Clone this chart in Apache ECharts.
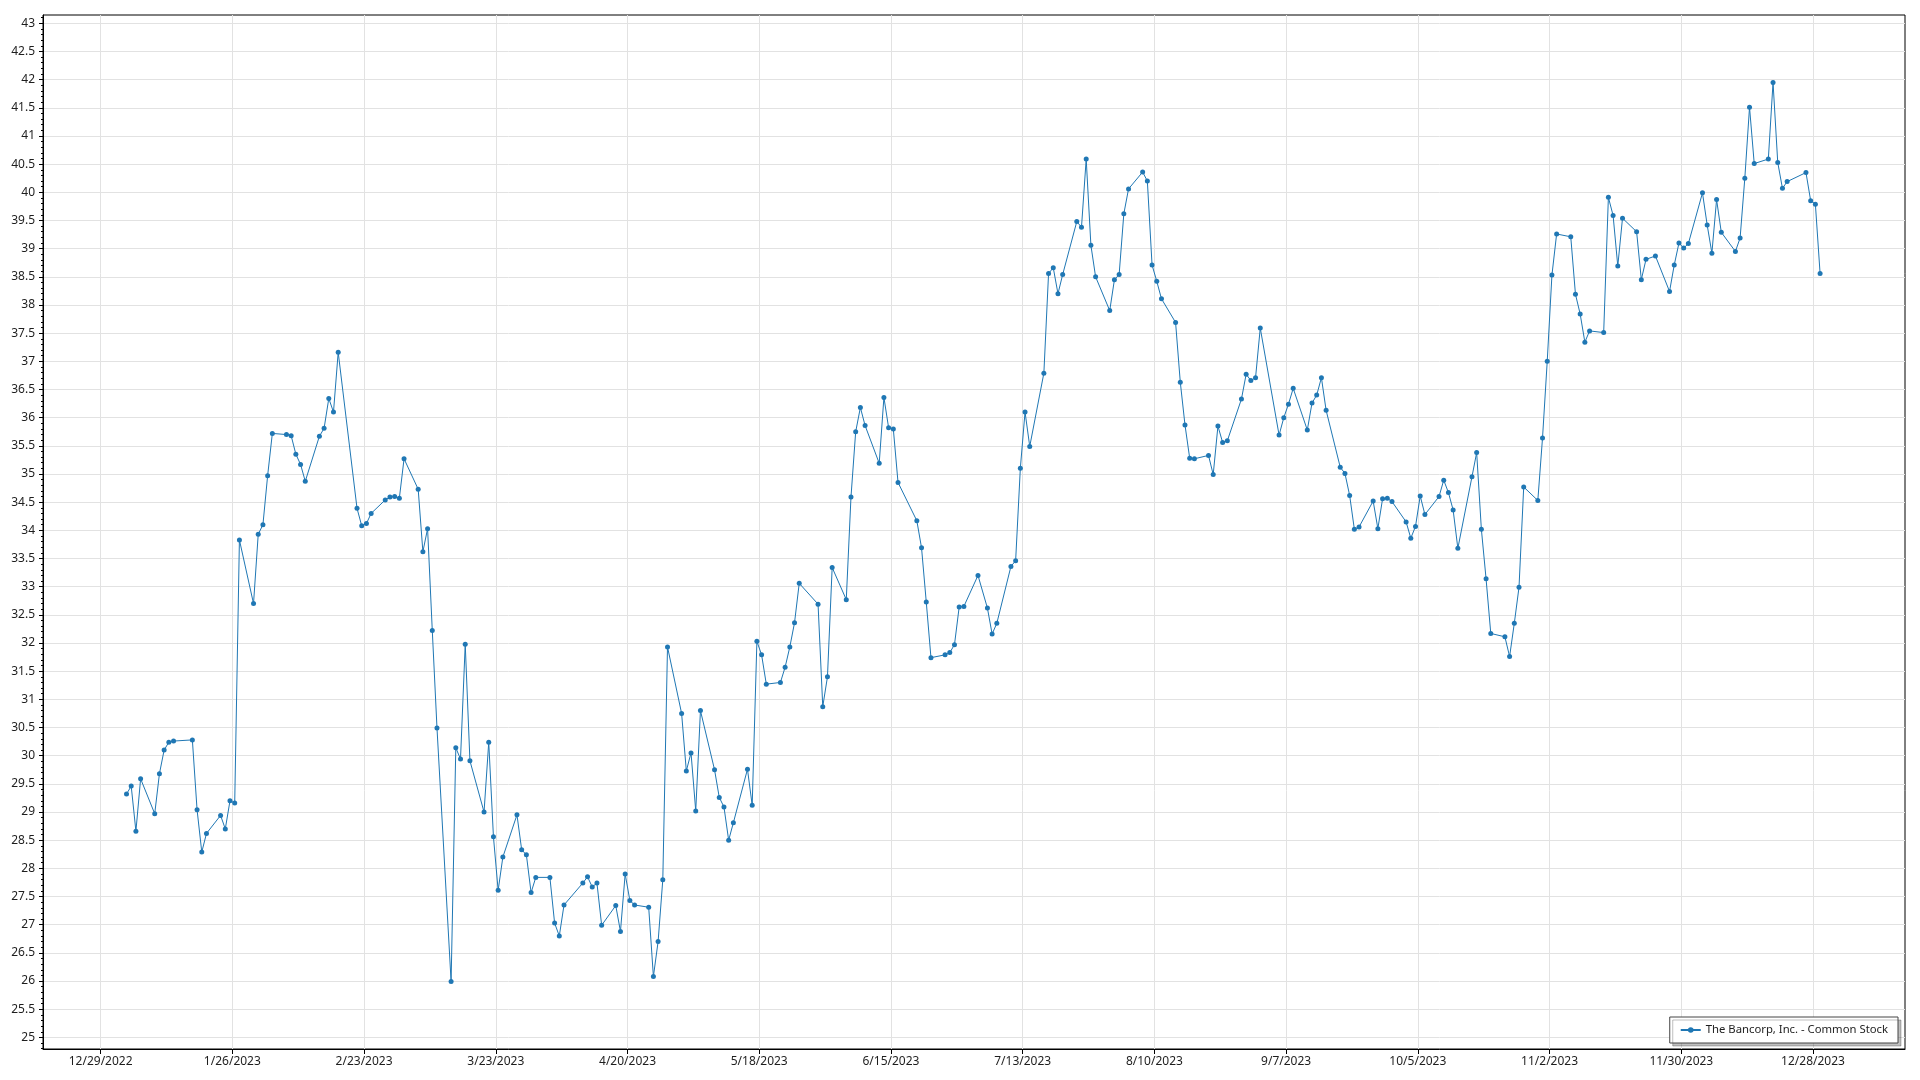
<!DOCTYPE html>
<html><head><meta charset="utf-8">
<script src="https://cdn.jsdelivr.net/npm/echarts@6/dist/echarts.min.js"></script>
<style>html,body{margin:0;padding:0;background:#fff}#c{width:1920px;height:1080px}</style>
</head><body><div id="c"></div>
<script>
const seriesName = 'The Bancorp, Inc. - Common Stock';

const dates = [
 '2023-01-03','2023-01-04','2023-01-05','2023-01-06','2023-01-09','2023-01-10','2023-01-11','2023-01-12','2023-01-13','2023-01-17','2023-01-18','2023-01-19','2023-01-20','2023-01-23','2023-01-24','2023-01-25','2023-01-26','2023-01-27','2023-01-30','2023-01-31',
 '2023-02-01','2023-02-02','2023-02-03','2023-02-06','2023-02-07','2023-02-08','2023-02-09','2023-02-10','2023-02-13','2023-02-14','2023-02-15','2023-02-16','2023-02-17','2023-02-21','2023-02-22','2023-02-23','2023-02-24','2023-02-27','2023-02-28',
 '2023-03-01','2023-03-02','2023-03-03','2023-03-06','2023-03-07','2023-03-08','2023-03-09','2023-03-10','2023-03-13','2023-03-14','2023-03-15','2023-03-16','2023-03-17','2023-03-20','2023-03-21','2023-03-22','2023-03-23','2023-03-24','2023-03-27','2023-03-28','2023-03-29','2023-03-30','2023-03-31',
 '2023-04-03','2023-04-04','2023-04-05','2023-04-06','2023-04-10','2023-04-11','2023-04-12','2023-04-13','2023-04-14','2023-04-17','2023-04-18','2023-04-19','2023-04-20','2023-04-21','2023-04-24','2023-04-25','2023-04-26','2023-04-27','2023-04-28',
 '2023-05-01','2023-05-02','2023-05-03','2023-05-04','2023-05-05','2023-05-08','2023-05-09','2023-05-10','2023-05-11','2023-05-12','2023-05-15','2023-05-16','2023-05-17','2023-05-18','2023-05-19','2023-05-22','2023-05-23','2023-05-24','2023-05-25','2023-05-26','2023-05-30','2023-05-31',
 '2023-06-01','2023-06-02','2023-06-05','2023-06-06','2023-06-07','2023-06-08','2023-06-09','2023-06-12','2023-06-13','2023-06-14','2023-06-15','2023-06-16','2023-06-20','2023-06-21','2023-06-22','2023-06-23','2023-06-26','2023-06-27','2023-06-28','2023-06-29','2023-06-30',
 '2023-07-03','2023-07-05','2023-07-06','2023-07-07','2023-07-10','2023-07-11','2023-07-12','2023-07-13','2023-07-14','2023-07-17','2023-07-18','2023-07-19','2023-07-20','2023-07-21','2023-07-24','2023-07-25','2023-07-26','2023-07-27','2023-07-28','2023-07-31',
 '2023-08-01','2023-08-02','2023-08-03','2023-08-04','2023-08-07','2023-08-08','2023-08-09','2023-08-10','2023-08-11','2023-08-14','2023-08-15','2023-08-16','2023-08-17','2023-08-18','2023-08-21','2023-08-22','2023-08-23','2023-08-24','2023-08-25','2023-08-28','2023-08-29','2023-08-30','2023-08-31',
 '2023-09-01','2023-09-05','2023-09-06','2023-09-07','2023-09-08','2023-09-11','2023-09-12','2023-09-13','2023-09-14','2023-09-15','2023-09-18','2023-09-19','2023-09-20','2023-09-21','2023-09-22','2023-09-25','2023-09-26','2023-09-27','2023-09-28','2023-09-29',
 '2023-10-02','2023-10-03','2023-10-04','2023-10-05','2023-10-06','2023-10-09','2023-10-10','2023-10-11','2023-10-12','2023-10-13','2023-10-16','2023-10-17','2023-10-18','2023-10-19','2023-10-20','2023-10-23','2023-10-24','2023-10-25','2023-10-26','2023-10-27','2023-10-30','2023-10-31',
 '2023-11-01','2023-11-02','2023-11-03','2023-11-06','2023-11-07','2023-11-08','2023-11-09','2023-11-10','2023-11-13','2023-11-14','2023-11-15','2023-11-16','2023-11-17','2023-11-20','2023-11-21','2023-11-22','2023-11-24','2023-11-27','2023-11-28','2023-11-29','2023-11-30',
 '2023-12-01','2023-12-04','2023-12-05','2023-12-06','2023-12-07','2023-12-08','2023-12-11','2023-12-12','2023-12-13','2023-12-14','2023-12-15','2023-12-18','2023-12-19','2023-12-20','2023-12-21','2023-12-22','2023-12-26','2023-12-27','2023-12-28','2023-12-29'
];

const prices = [
 29.32,29.46,28.66,29.59,28.97,29.68,30.10,30.24,30.26,30.28,29.04,28.29,28.62,28.94,28.70,29.20,29.16,33.83,32.70,33.93,
 34.10,34.97,35.72,35.70,35.68,35.35,35.17,34.87,35.67,35.81,36.34,36.10,37.16,34.39,34.08,34.12,34.30,34.54,34.59,
 34.60,34.57,35.27,34.73,33.62,34.03,32.22,30.49,25.99,30.14,29.94,31.98,29.91,29.00,30.24,28.56,27.61,28.20,28.95,28.33,28.24,27.57,27.84,
 27.84,27.03,26.80,27.35,27.74,27.85,27.67,27.74,26.99,27.34,26.88,27.90,27.43,27.35,27.31,26.08,26.70,27.80,31.93,
 30.75,29.73,30.05,29.02,30.80,29.75,29.26,29.09,28.50,28.81,29.76,29.12,32.03,31.79,31.27,31.30,31.57,31.93,32.36,33.06,32.69,30.87,
 31.40,33.34,32.77,34.59,35.75,36.18,35.86,35.19,36.36,35.82,35.80,34.85,34.17,33.69,32.73,31.74,31.79,31.83,31.97,32.64,32.65,
 33.20,32.62,32.16,32.35,33.36,33.46,35.10,36.10,35.49,36.79,38.56,38.66,38.20,38.54,39.48,39.38,40.59,39.06,38.50,37.90,
 38.45,38.54,39.62,40.06,40.36,40.20,38.71,38.42,38.11,37.69,36.63,35.87,35.28,35.27,35.33,34.99,35.85,35.56,35.59,36.33,36.77,36.66,36.71,
 37.59,35.69,36.00,36.24,36.52,35.78,36.26,36.40,36.71,36.13,35.12,35.01,34.62,34.02,34.06,34.52,34.03,34.56,34.57,34.51,
 34.15,33.86,34.07,34.61,34.28,34.60,34.89,34.67,34.36,33.68,34.95,35.38,34.02,33.14,32.17,32.11,31.76,32.35,32.99,34.77,34.53,35.64,
 37.00,38.53,39.26,39.21,38.19,37.84,37.34,37.54,37.51,39.91,39.59,38.69,39.54,39.30,38.45,38.81,38.87,38.24,38.71,39.10,39.01,
 39.09,39.99,39.42,38.92,39.87,39.29,38.95,39.19,40.25,41.51,40.51,40.59,41.95,40.53,40.07,40.19,40.35,39.85,39.79,38.56
];

const xTickLabels = ['12/29/2022','1/26/2023','2/23/2023','3/23/2023','4/20/2023','5/18/2023','6/15/2023','7/13/2023','8/10/2023','9/7/2023','10/5/2023','11/2/2023','11/30/2023','12/28/2023'];
const yTickValues = [25,25.5,26,26.5,27,27.5,28,28.5,29,29.5,30,30.5,31,31.5,32,32.5,33,33.5,34,34.5,35,35.5,36,36.5,37,37.5,38,38.5,39,39.5,40,40.5,41,41.5,42,42.5,43];

const DAY = 86400000;
function parseMDY(s){const p=s.split('/').map(Number);return Date.UTC(p[2],p[0]-1,p[1]);}
function parseISO(s){const p=s.split('-').map(Number);return Date.UTC(p[0],p[1]-1,p[2]);}
const xTicks = xTickLabels.map(parseMDY);
const t0 = xTicks[0];
const seriesData = dates.map((d,i)=>[parseISO(d)+DAY/2, prices[i]]);

// minor ticks every 0.1 between the 0.5 majors
const yMinor = [];
for (let k = 248; k <= 431; k++) { if (k % 5 !== 0) yMinor.push(k/10); }

const FONT = "'Segoe UI','Noto Sans',sans-serif";
const TXT = '#1e1e1e';

const chart = echarts.init(document.getElementById('c'), null, {renderer:'canvas'});
chart.setOption({
  animation: false,
  backgroundColor: '#fff',
  grid: {left: 43, right: 15, top: 15, bottom: 31, show: true, borderColor: '#000', borderWidth: 1, backgroundColor: 'transparent'},
  legend: {
    data: [seriesName], right: 22, bottom: 37, orient: 'horizontal',
    padding: [6, 10, 6, 10], itemWidth: 20, itemHeight: 7, itemGap: 6,
    backgroundColor: '#fff', borderColor: '#444', borderWidth: 1, borderRadius: 0,
    shadowColor: 'rgba(0,0,0,0.25)', shadowBlur: 0, shadowOffsetX: 3, shadowOffsetY: 3,
    textStyle: {fontFamily: FONT, fontSize: 11.3, color: TXT, lineHeight: 14}
  },
  xAxis: {
    type: 'value', min: t0 - 12.25*DAY, max: t0 + 383.55*DAY,
    axisLine: {show: true, lineStyle: {color: '#000', width: 1}},
    axisTick: {show: true, customValues: xTicks, length: 5, lineStyle: {color: '#000'}},
    axisLabel: {show: true, customValues: xTicks, margin: 7, fontFamily: FONT, fontSize: 12, color: TXT,
      formatter: v => { const d = new Date(v); return (d.getUTCMonth()+1)+'/'+d.getUTCDate()+'/'+d.getUTCFullYear(); }},
    splitLine: {show: true, lineStyle: {color: '#e2e2e2', width: 1}}
  },
  yAxis: [{
    type: 'value', min: 24.794, max: 43.147, position: 'left',
    axisLine: {show: true, lineStyle: {color: '#000', width: 1}},
    axisTick: {show: true, customValues: yTickValues, length: 4, lineStyle: {color: '#000'}},
    axisLabel: {show: true, customValues: yTickValues, margin: 8, fontFamily: FONT, fontSize: 12, color: TXT,
      formatter: v => String(Math.round(v*10)/10)},
    splitLine: {show: true, lineStyle: {color: '#e2e2e2', width: 1}}
  }, {
    type: 'value', min: 24.794, max: 43.147, position: 'left', offset: 0,
    axisLine: {show: false},
    axisTick: {show: true, customValues: yMinor, length: 2, lineStyle: {color: '#000'}},
    axisLabel: {show: false},
    splitLine: {show: false}
  }],
  series: [{
    name: seriesName, type: 'line', xAxisIndex: 0, yAxisIndex: 0,
    data: seriesData,
    symbol: 'circle', symbolSize: 5, showSymbol: true, showAllSymbol: true,
    lineStyle: {color: '#1f77b4', width: 1},
    itemStyle: {color: '#1f77b4'},
    emphasis: {disabled: true}
  }]
});
</script></body></html>
